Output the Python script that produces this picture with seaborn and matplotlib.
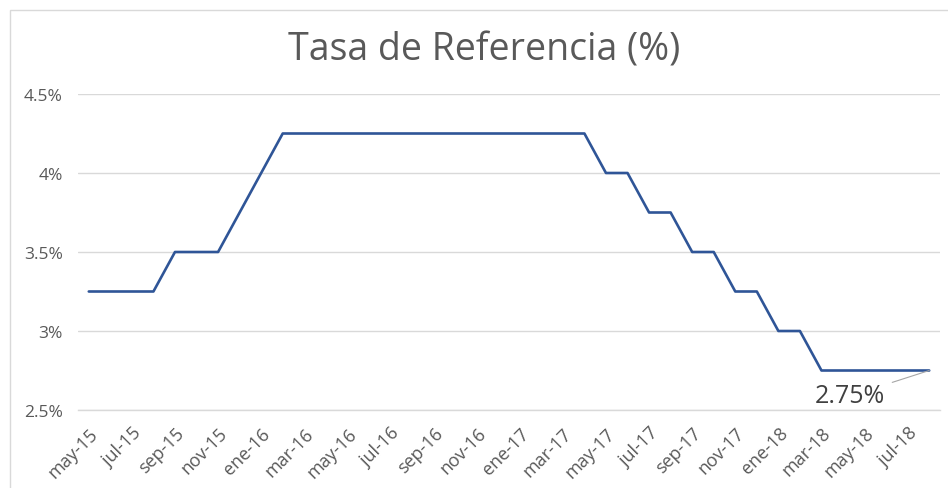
import matplotlib
matplotlib.use("Agg")
import matplotlib.pyplot as plt
import seaborn as sns
import pandas as pd
from matplotlib.patches import Rectangle

# Monthly reference rate, may-15 .. aug-18
months = ["may-15", "jun-15", "jul-15", "ago-15", "sep-15", "oct-15", "nov-15", "dic-15",
          "ene-16", "feb-16", "mar-16", "abr-16", "may-16", "jun-16", "jul-16", "ago-16",
          "sep-16", "oct-16", "nov-16", "dic-16", "ene-17", "feb-17", "mar-17", "abr-17",
          "may-17", "jun-17", "jul-17", "ago-17", "sep-17", "oct-17", "nov-17", "dic-17",
          "ene-18", "feb-18", "mar-18", "abr-18", "may-18", "jun-18", "jul-18", "ago-18"]
rate = [3.25, 3.25, 3.25, 3.25, 3.5, 3.5, 3.5, 3.75,
        4.0, 4.25, 4.25, 4.25, 4.25, 4.25, 4.25, 4.25,
        4.25, 4.25, 4.25, 4.25, 4.25, 4.25, 4.25, 4.25,
        4.0, 4.0, 3.75, 3.75, 3.5, 3.5, 3.25, 3.25,
        3.0, 3.0, 2.75, 2.75, 2.75, 2.75, 2.75, 2.75]
y_ticks = [2.5, 3.0, 3.5, 4.0, 4.5]
y_labels = ["2.5%", "3%", "3.5%", "4%", "4.5%"]

df = pd.DataFrame({"idx": range(len(months)), "mes": months, "tasa": rate})

sns.set_style("white")
plt.rcParams["font.family"] = ["Open Sans", "DejaVu Sans"]

fig = plt.figure(figsize=(9.48, 4.89), dpi=100)
ax = fig.add_axes([78 / 948, 1 - 411 / 489, 862 / 948, 316 / 489])

sns.lineplot(data=df, x="idx", y="tasa", ax=ax, color="#2F5597", linewidth=1.9)

ax.set_xlim(-0.5, len(months) - 0.5)
ax.set_ylim(2.5, 4.5)
ax.set_yticks(y_ticks)
ax.set_yticklabels(y_labels)
ax.set_xticks(df["idx"][::2])
ax.set_xticklabels(df["mes"][::2], rotation=45, ha="right", rotation_mode="anchor")
ax.set_xticks([i - 0.5 for i in range(0, len(months) + 1, 2)], minor=True)
ax.tick_params(axis="x", which="major", length=0, pad=10, labelsize=13, labelcolor="#595959")
ax.tick_params(axis="x", which="minor", length=6, color="#d9d9d9", width=1)
ax.tick_params(axis="y", length=0, pad=11, labelsize=12.5, labelcolor="#595959")
ax.set_xlabel("")
ax.set_ylabel("")

ax.grid(axis="y", color="#d9d9d9", linewidth=1)
for s in ["top", "right", "left"]:
    ax.spines[s].set_visible(False)
ax.spines["bottom"].set_color("#d9d9d9")
ax.spines["bottom"].set_linewidth(1)

# data label for last point
last = len(months) - 1
ax.annotate("2.75%", xy=(last, rate[-1]), xytext=(885, 489 - 397), textcoords="figure pixels",
            ha="right", va="center", fontsize=18, color="#404040",
            arrowprops=dict(arrowstyle="-", color="#a6a6a6", lw=0.8,
                            shrinkA=3, shrinkB=0))

fig.text(484 / 948, 1 - 51 / 489, "Tasa de Referencia (%)", ha="center", va="center",
         fontsize=27, color="#595959")

# chart border
fig.patches.append(Rectangle((10 / 948, -0.1), 1.2, 1 - 11 / 489 + 0.1, transform=fig.transFigure,
                             fill=False, edgecolor="#d9d9d9", linewidth=1))

fig.savefig("out.png", dpi=100)
